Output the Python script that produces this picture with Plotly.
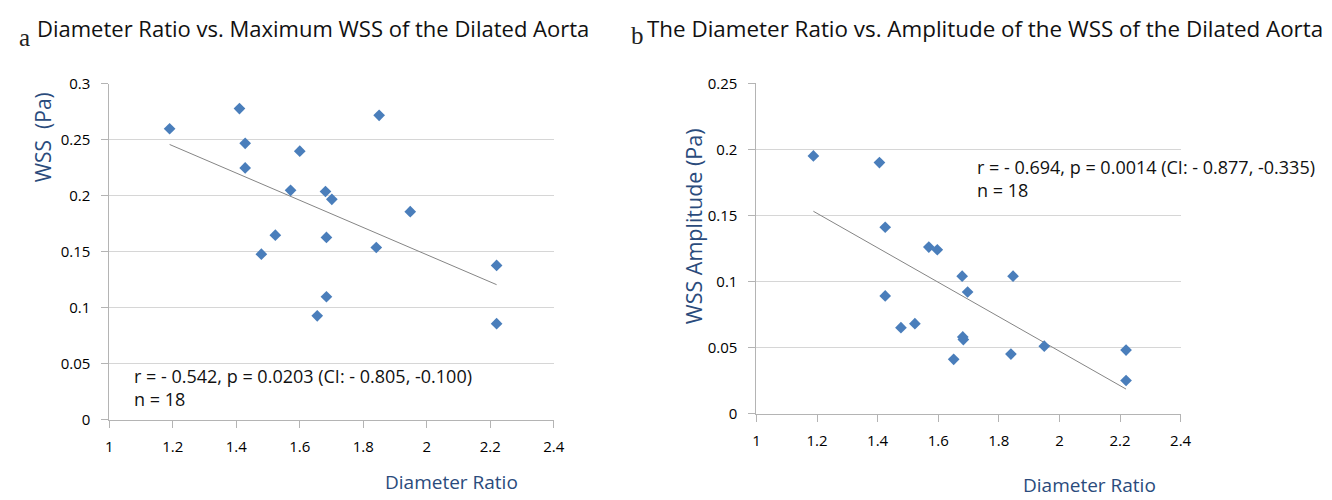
import numpy as np
import plotly.graph_objects as go

# Panel a: Diameter ratio vs maximum WSS
ratio_a = [1.19, 1.41, 1.428, 1.428, 1.600, 1.571, 1.681, 1.701, 1.85, 1.948,
           1.523, 1.479, 1.684, 1.841, 2.22, 1.684, 1.655, 2.22]
wss_max = [0.260, 0.278, 0.247, 0.225, 0.240, 0.205, 0.204, 0.197, 0.272, 0.186,
           0.165, 0.148, 0.163, 0.154, 0.138, 0.110, 0.093, 0.086]

# Panel b: Diameter ratio vs WSS amplitude
ratio_b = [1.188, 1.406, 1.425, 1.425, 1.569, 1.597, 1.679, 1.847, 1.697, 1.477,
           1.523, 1.681, 1.683, 1.651, 1.84, 1.95, 2.22, 2.22]
wss_amp = [0.195, 0.190, 0.141, 0.089, 0.126, 0.124, 0.104, 0.104, 0.092, 0.065,
           0.068, 0.058, 0.056, 0.041, 0.045, 0.051, 0.048, 0.025]

x_ticks = [1, 1.2, 1.4, 1.6, 1.8, 2, 2.2, 2.4]
x_tick_text = ["1", "1.2", "1.4", "1.6", "1.8", "2", "2.2", "2.4"]
ya_ticks = [0, 0.05, 0.1, 0.15, 0.2, 0.25, 0.3]
ya_text = ["0", "0.05", "0.1", "0.15", "0.2", "0.25", "0.3"]
yb_ticks = [0, 0.05, 0.1, 0.15, 0.2, 0.25]
yb_text = ["0", "0.05", "0.1", "0.15", "0.2", "0.25"]

titles = ["Diameter Ratio vs. Maximum WSS of the Dilated Aorta",
          "The Diameter Ratio vs. Amplitude of the WSS of the Dilated Aorta"]
stats = ["r = - 0.542, p = 0.0203 (CI: - 0.805, -0.100)<br>n = 18",
         "r = - 0.694, p = 0.0014 (CI: - 0.877, -0.335)<br>n = 18"]

W, H = 1332, 500
FONT = "Open Sans"
MARK = "#4A7EBB"
NAVY = "#2A4B7C"
GRID = "#D6D6D6"
AXL = "#B4B4B4"

def px(x):
    return x / W

def py(y):
    return 1 - y / H

fig = go.Figure()

def fit_line(xs, ys):
    k, b = np.polyfit(xs, ys, 1)
    xx = np.array([min(xs), max(xs)])
    return xx, k * xx + b

for i, (xs, ys) in enumerate([(ratio_a, wss_max), (ratio_b, wss_amp)]):
    xa = "x" if i == 0 else "x2"
    ya = "y" if i == 0 else "y2"
    lx, ly = fit_line(xs, ys)
    fig.add_trace(go.Scatter(x=lx, y=ly, mode="lines", xaxis=xa, yaxis=ya,
                             line=dict(color="#858585", width=1), showlegend=False,
                             hoverinfo="skip"))
    fig.add_trace(go.Scatter(x=xs, y=ys, mode="markers", xaxis=xa, yaxis=ya,
                             marker=dict(symbol="diamond", size=9, color=MARK,
                                         line=dict(width=0)),
                             showlegend=False))

common_x = dict(range=[1, 2.4], tickvals=x_ticks, ticktext=x_tick_text,
                showgrid=False, zeroline=False, showline=True, linecolor=AXL,
                linewidth=1, ticks="outside", ticklen=7, tickcolor=AXL,
                ticklabelstandoff=6,
                tickfont=dict(family=FONT, size=15, color="#000000"))
common_y = dict(showgrid=True, gridcolor=GRID, gridwidth=1, zeroline=False,
                showline=True, linecolor=AXL, linewidth=1, ticks="outside",
                ticklen=7, tickcolor=AXL, ticklabelstandoff=8,
                tickfont=dict(family=FONT, size=15, color="#000000"))

fig.update_layout(
    width=W, height=H,
    margin=dict(l=0, r=0, t=0, b=0),
    paper_bgcolor="white", plot_bgcolor="white",
    xaxis=dict(domain=[px(106.5), px(556)], anchor="y", **common_x),
    yaxis=dict(domain=[py(426), py(76)], anchor="x", range=[0, 0.3],
               tickvals=ya_ticks, ticktext=ya_text, **common_y),
    xaxis2=dict(domain=[px(761), px(1190)], anchor="y2", **common_x),
    yaxis2=dict(domain=[py(419.3), py(75.3)], anchor="x2", range=[0, 0.25],
                tickvals=yb_ticks, ticktext=yb_text, **common_y),
)

ann = []
# Panel letters
ann.append(dict(text="a", x=px(13), y=py(28), xref="paper", yref="paper",
                xanchor="left", yanchor="middle", showarrow=False,
                font=dict(family="Liberation Serif", size=25, color="#222")))
ann.append(dict(text="b", x=px(632), y=py(25), xref="paper", yref="paper",
                xanchor="left", yanchor="middle", showarrow=False,
                font=dict(family="Liberation Serif", size=25, color="#222")))
# Titles
ann.append(dict(text=titles[0], x=px(31), y=py(18), xref="paper", yref="paper",
                xanchor="left", yanchor="middle", showarrow=False,
                font=dict(family=FONT, size=22, color="#111")))
ann.append(dict(text=titles[1], x=px(648), y=py(18), xref="paper", yref="paper",
                xanchor="left", yanchor="middle", showarrow=False,
                font=dict(family=FONT, size=22.4, color="#111")))
# Axis titles
ann.append(dict(text="WSS  (Pa)", x=px(39), y=py(132), xref="paper", yref="paper",
                xanchor="center", yanchor="middle", showarrow=False, textangle=-90,
                font=dict(family=FONT, size=21, color=NAVY)))
ann.append(dict(text="WSS Amplitude (Pa)", x=px(697), y=py(224), xref="paper", yref="paper",
                xanchor="center", yanchor="middle", showarrow=False, textangle=-90,
                font=dict(family=FONT, size=21.5, color=NAVY)))
ann.append(dict(text="Diameter Ratio", x=px(453), y=py(491), xref="paper", yref="paper",
                xanchor="center", yanchor="middle", showarrow=False,
                font=dict(family=FONT, size=19, color=NAVY)))
ann.append(dict(text="Diameter Ratio", x=px(1098), y=py(494), xref="paper", yref="paper",
                xanchor="center", yanchor="middle", showarrow=False,
                font=dict(family=FONT, size=19, color=NAVY)))
# Stats text
ann.append(dict(text=stats[0], x=px(129), y=py(392), xref="paper", yref="paper",
                xanchor="left", yanchor="middle", showarrow=False, align="left",
                font=dict(family=FONT, size=18, color="#111")))
ann.append(dict(text=stats[1], x=px(982), y=py(174), xref="paper", yref="paper",
                xanchor="left", yanchor="middle", showarrow=False, align="left",
                font=dict(family=FONT, size=18, color="#111")))
fig.update_layout(annotations=ann)

fig.write_html("out.html")
